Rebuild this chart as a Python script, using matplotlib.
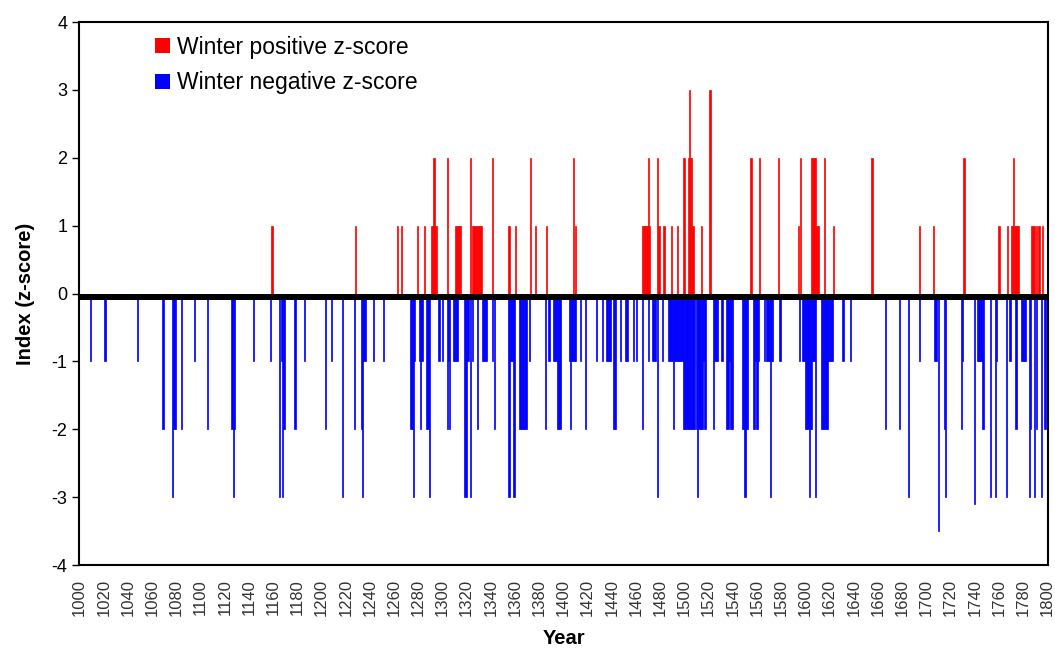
import matplotlib
matplotlib.use("Agg")
import matplotlib.pyplot as plt
from matplotlib.patches import Patch

plt.rcParams["font.family"] = ["Liberation Sans", "DejaVu Sans"]
plt.rcParams["axes.unicode_minus"] = False

# winter index, years with a positive z-score
pos_years = [1159, 1228, 1263, 1266, 1279, 1285,
             1291, 1292, 1293, 1294, 1295, 1304,
             1311, 1312, 1313, 1314, 1315, 1323,
             1325, 1326, 1327, 1328, 1329, 1330, 1331, 1332,
             1341, 1355, 1360, 1373, 1377, 1386, 1408, 1410,
             1465, 1466, 1467, 1468, 1469, 1470, 1471, 1478, 1479,
             1483, 1489, 1494, 1499, 1500,
             1503, 1504, 1505, 1506, 1507, 1514, 1521,
             1555, 1562, 1578, 1594, 1596,
             1605, 1606, 1607, 1608, 1609, 1610, 1611, 1616, 1623,
             1655, 1694, 1706, 1731, 1760, 1767,
             1770, 1771, 1772, 1773, 1774, 1775, 1776,
             1787, 1788, 1789, 1791, 1793, 1796]
pos_vals = [1, 1, 1, 1, 1, 1,
            1, 1, 2, 1, 1, 2,
            1, 1, 1, 1, 1, 2,
            1, 1, 1, 1, 1, 1, 1, 1,
            2, 1, 1, 2, 1, 1, 2, 1,
            1, 1, 1, 1, 1, 2, 1, 2, 1,
            1, 1, 1, 2, 2,
            2, 3, 2, 2, 1, 1, 3,
            2, 2, 2, 1, 2,
            2, 2, 2, 2, 1, 1, 1, 2, 1,
            2, 1, 1, 2, 1, 1,
            1, 1, 2, 1, 1, 1, 1,
            1, 1, 1, 1, 1, 1]

# winter index, years with a negative z-score
neg_years = [1009, 1021, 1048, 1069, 1077, 1078, 1079, 1084, 1095, 1106,
             1126, 1127, 1128, 1144, 1158, 1165, 1167, 1168, 1169, 1178, 1186,
             1203, 1208, 1217, 1227, 1233, 1234, 1235, 1236, 1243, 1251,
             1274, 1275, 1276, 1277, 1281, 1282, 1283, 1287, 1288, 1289,
             1297, 1300, 1304, 1305, 1306, 1309, 1310, 1311, 1312,
             1318, 1319, 1320, 1321, 1323, 1325, 1329,
             1333, 1334, 1335, 1336, 1341, 1343,
             1355, 1356, 1357, 1358, 1359,
             1364, 1365, 1366, 1367, 1368, 1369, 1372, 1385, 1388,
             1392, 1393, 1394, 1395, 1396, 1397,
             1405, 1406, 1407, 1408, 1409, 1410, 1414, 1418, 1427, 1432,
             1436, 1437, 1438, 1439, 1441, 1442, 1443, 1447,
             1451, 1452, 1453, 1458, 1460, 1465, 1470,
             1474, 1475, 1476, 1478, 1482,
             1487, 1488, 1489, 1490, 1491, 1492, 1493, 1494, 1495, 1496,
             1497, 1498, 1499,
             1500, 1501, 1502, 1503, 1504, 1505, 1506, 1507, 1508,
             1510, 1511, 1512, 1513, 1514, 1515, 1516, 1517,
             1524, 1525, 1526, 1527, 1531,
             1535, 1536, 1537, 1538, 1539, 1540,
             1548, 1549, 1550, 1551, 1552,
             1557, 1558, 1559, 1560, 1561, 1566,
             1568, 1569, 1570, 1571, 1572, 1573, 1579, 1595, 1598,
             1599, 1600, 1601, 1602, 1603, 1604, 1605, 1606, 1607, 1608,
             1613, 1614, 1615, 1616, 1617, 1618, 1619, 1620, 1621, 1622,
             1631, 1637, 1666, 1678, 1685, 1694,
             1707, 1708, 1710, 1715, 1716, 1729, 1730, 1740,
             1742, 1743, 1744, 1745, 1746, 1747,
             1753, 1757, 1758, 1766, 1769, 1774,
             1779, 1780, 1781, 1782, 1785, 1786, 1789, 1791, 1795, 1798]
neg_vals = [-1, -1, -1, -2, -3, -2, -2, -2, -1, -2,
            -2, -3, -2, -1, -1, -3, -1, -3, -2, -2, -1,
            -2, -1, -3, -2, -2, -3, -1, -1, -1, -1,
            -2, -2, -3, -1, -1, -2, -1, -2, -2, -3,
            -1, -1, -2, -1, -2, -1, -1, -1, -1,
            -3, -3, -3, -1, -3, -1, -2,
            -1, -1, -1, -1, -1, -2,
            -3, -1, -1, -1, -3,
            -2, -2, -2, -2, -2, -2, -1, -2, -1,
            -1, -1, -1, -2, -2, -2,
            -1, -2, -1, -1, -1, -1, -1, -2, -1, -1,
            -1, -1, -1, -1, -2, -2, -2, -1,
            -1, -1, -1, -1, -1, -2, -1,
            -1, -1, -1, -3, -1,
            -1, -1, -1, -1, -2, -1, -1, -1, -1, -1,
            -1, -1, -2,
            -2, -2, -2, -2, -2, -2, -2, -2, -2,
            -2, -3, -2, -2, -2, -2, -1, -2,
            -2, -1, -1, -1, -1,
            -2, -2, -1, -2, -2, -2,
            -2, -2, -3, -2, -2,
            -2, -2, -1, -2, -1, -1,
            -1, -1, -1, -3, -1, -1, -1, -1, -1,
            -1, -2, -2, -2, -3, -2, -2, -1, -1, -3,
            -2, -2, -2, -2, -2, -2, -1, -1, -1, -1,
            -1, -1, -2, -2, -3, -1,
            -1, -1, -3.5, -2, -3, -2, -1, -3.1,
            -1, -1, -1, -1, -2, -2,
            -3, -3, -1, -3, -1, -2,
            -1, -1, -1, -1, -3, -2, -3, -2, -3, -2]

year_ticks = list(range(1000, 1801, 20))

fig = plt.figure(figsize=(10.55, 6.48), dpi=100)
ax = fig.add_axes([0.0749, 0.128, 0.9185, 0.838])

ax.bar(pos_years, pos_vals, width=1.0, color="#ff0000", edgecolor="#ff0000",
       linewidth=0.5, zorder=2)
ax.bar(neg_years, neg_vals, width=1.0, color="#0000ff", edgecolor="#0000ff",
       linewidth=0.5, zorder=2)

# heavy zero line along the category axis
ax.axhspan(-0.1, 0, color="black", zorder=3, linewidth=0)

ax.set_xlim(999.5, 1800.5)
ax.set_ylim(-4, 4)
ax.set_yticks(range(-4, 5))
ax.set_xticks(year_ticks)
ax.set_xticklabels([str(y) for y in year_ticks], rotation=90, fontsize=12,
                   color="#333333")
ax.tick_params(axis="y", labelsize=13, direction="out", length=5, width=1)
ax.tick_params(axis="x", length=0, pad=10)

for sp in ax.spines.values():
    sp.set_linewidth(1.5)
    sp.set_color("black")

ax.set_ylabel("Index (z-score)", fontsize=14.5, fontweight="bold", labelpad=12)
ax.set_xlabel("Year", fontsize=14.5, fontweight="bold", labelpad=9)

handles = [Patch(facecolor="#ff0000", label="Winter positive z-score"),
           Patch(facecolor="#0000ff", label="Winter negative z-score")]
ax.legend(handles=handles, loc="upper left", bbox_to_anchor=(0.064, 1.0),
          frameon=False, fontsize=16.5, handlelength=0.65, handleheight=0.65,
          handletextpad=0.3, labelspacing=0.55, borderaxespad=0.2)

fig.savefig("out.png", dpi=100)
